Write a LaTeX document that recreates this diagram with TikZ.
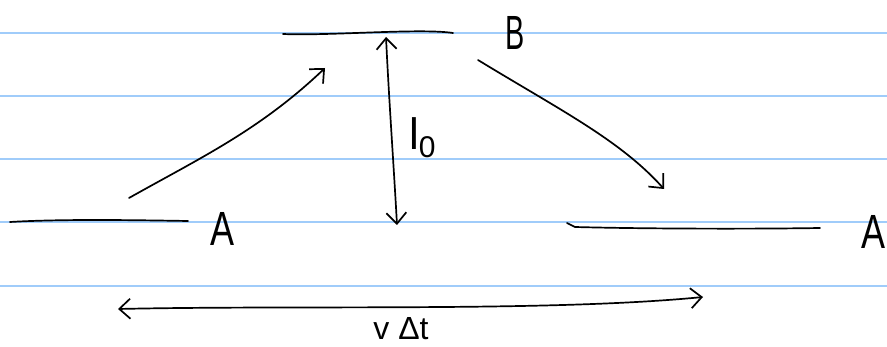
\documentclass[tikz,border=0pt]{standalone}
\usepackage{fontspec}
\setmainfont{Liberation Sans}
\usetikzlibrary{arrows.meta}
\definecolor{rule}{RGB}{160,204,250}
\tikzset{
  ruleline/.style={draw=rule,line width=2pt},
  ink/.style={draw=black,line width=1.7pt,line cap=round,line join=round},
  barb/.style={ink,-{Straight Barb[length=11pt,width=20pt,line width=1.7pt]}},
  dbarb/.style={ink,{Straight Barb[length=11pt,width=20pt,line width=1.7pt]}-{Straight Barb[length=11pt,width=20pt,line width=1.7pt]}},
  lbl/.style={inner sep=0pt,font=\fontsize{48}{50}\selectfont}
}
\begin{document}
\begin{tikzpicture}[x=1pt,y=-1pt]
\useasboundingbox (0,0) rectangle (887,347);
\fill[white] (0,0) rectangle (887,347);
% ruled paper
\foreach \yy in {33,96,159,222,286}
  \draw[ruleline] (0,\yy) -- (887,\yy);
% B plate
\coordinate (b1) at (283,34);
\coordinate (b2) at (453,33);
\draw[ink] (b1) .. controls (330,36) and (420,28) .. (b2);
\node[lbl] (B) at (515,33) {\scalebox{0.6}[1]{B}};
% left A plate
\coordinate (a1) at (10,222);
\coordinate (a2) at (188,221);
\draw[ink] (a1) .. controls (60,219) and (130,220) .. (a2);
\node[lbl] (A1) at (223,229) {\scalebox{0.75}[1]{A}};
% right A plate
\coordinate (c1) at (567,223);
\coordinate (c2) at (820,228);
\draw[ink] (c1) -- (575,227) .. controls (650,229) and (760,229) .. (c2);
\node[lbl,anchor=east] (A2) at (886,232) {\scalebox{0.75}[1]{A}};
% left diagonal arrow
\coordinate (p1) at (129,198);
\coordinate (p2) at (325,68);
\draw[barb] (p1) .. controls (200,158) and (260,130) .. (p2);
% right diagonal arrow
\coordinate (q1) at (478,60);
\coordinate (q2) at (664,189);
\draw[barb] (q1) .. controls (560,110) and (620,140) .. (q2);
% vertical l0 arrow
\coordinate (v1) at (386,37);
\coordinate (v2) at (397,225);
\draw[dbarb] (v1) .. controls (389,100) and (394,170) .. (v2);
\node[inner sep=0pt,anchor=base west] (L) at (409,150) {\fontsize{44}{46}\selectfont l\raisebox{-8pt}{\fontsize{30}{32}\selectfont 0}};
% horizontal v dt arrow
\coordinate (h1) at (118,309);
\coordinate (h2) at (703,297);
\draw[dbarb] (h1) .. controls (300,305) and (550,312) .. (h2);
\node[inner sep=0pt,anchor=base,font=\fontsize{32}{34}\selectfont] (VT) at (401,340) {v Δt};
\end{tikzpicture}
\end{document}
